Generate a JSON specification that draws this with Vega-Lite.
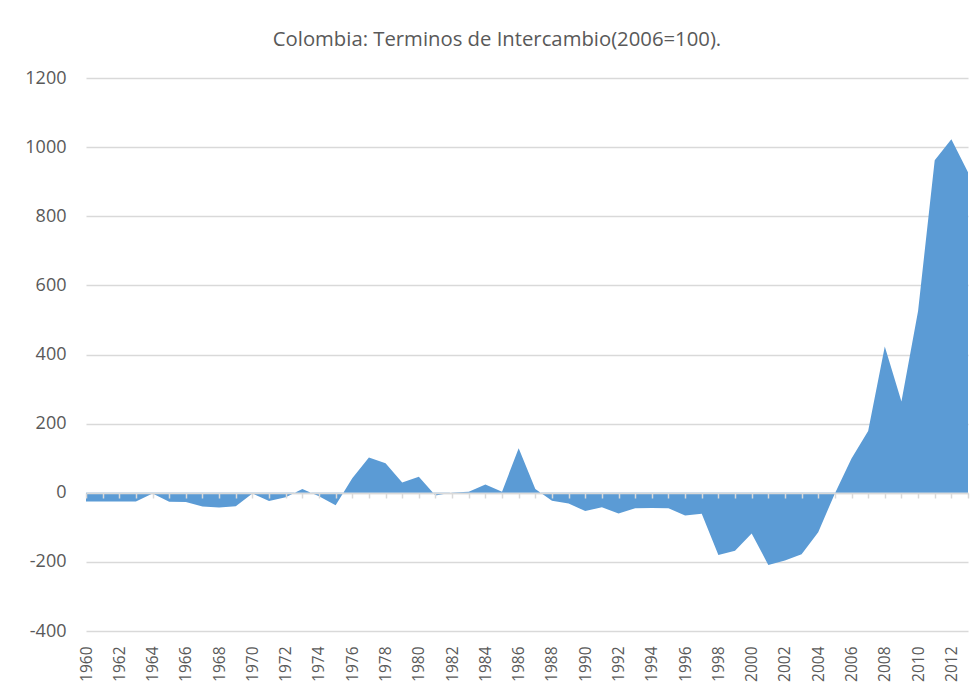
{
  "$schema": "https://vega.github.io/schema/vega-lite/v6.json",
  "autosize": "none",
  "padding": {"left": 86, "top": 78, "right": 12, "bottom": 58},
  "width": 882,
  "height": 553,
  "background": "white",
  "config": {"view": {"stroke": null}, "font": "Open Sans"},
  "title": {
    "text": "Colombia: Terminos de Intercambio(2006=100).",
    "anchor": "middle",
    "frame": "group",
    "dx": -30,
    "offset": 9,
    "baseline": "middle",
    "fontSize": 20.3,
    "fontWeight": "normal",
    "font": "Open Sans",
    "color": "#595959"
  },
  "data": {
    "values": [
      {"year": 1960, "value": -25}, {"year": 1961, "value": -25}, {"year": 1962, "value": -25},
      {"year": 1963, "value": -25}, {"year": 1964, "value": -2}, {"year": 1965, "value": -26},
      {"year": 1966, "value": -27}, {"year": 1967, "value": -40}, {"year": 1968, "value": -43},
      {"year": 1969, "value": -39}, {"year": 1970, "value": -2}, {"year": 1971, "value": -24},
      {"year": 1972, "value": -13}, {"year": 1973, "value": 11}, {"year": 1974, "value": -10},
      {"year": 1975, "value": -36}, {"year": 1976, "value": 42}, {"year": 1977, "value": 102},
      {"year": 1978, "value": 85}, {"year": 1979, "value": 30}, {"year": 1980, "value": 46},
      {"year": 1981, "value": -8}, {"year": 1982, "value": 1}, {"year": 1983, "value": 3},
      {"year": 1984, "value": 24}, {"year": 1985, "value": 3}, {"year": 1986, "value": 129},
      {"year": 1987, "value": 11}, {"year": 1988, "value": -23}, {"year": 1989, "value": -31},
      {"year": 1990, "value": -53}, {"year": 1991, "value": -42}, {"year": 1992, "value": -60},
      {"year": 1993, "value": -45}, {"year": 1994, "value": -44}, {"year": 1995, "value": -45},
      {"year": 1996, "value": -66}, {"year": 1997, "value": -61}, {"year": 1998, "value": -180},
      {"year": 1999, "value": -168}, {"year": 2000, "value": -118}, {"year": 2001, "value": -209},
      {"year": 2002, "value": -196}, {"year": 2003, "value": -178}, {"year": 2004, "value": -114},
      {"year": 2005, "value": -2}, {"year": 2006, "value": 99}, {"year": 2007, "value": 179},
      {"year": 2008, "value": 423}, {"year": 2009, "value": 264}, {"year": 2010, "value": 526},
      {"year": 2011, "value": 962}, {"year": 2012, "value": 1023}, {"year": 2013, "value": 927}
    ]
  },
  "layer": [
    {
      "mark": {"type": "area", "color": "#5B9BD5", "opacity": 1},
      "encoding": {
        "x": {
          "field": "year", "type": "quantitative",
          "scale": {"domain": [1960, 2013], "nice": false, "zero": false},
          "axis": {
            "orient": "bottom",
            "title": null,
            "values": [1960,1962,1964,1966,1968,1970,1972,1974,1976,1978,1980,1982,1984,1986,1988,1990,1992,1994,1996,1998,2000,2002,2004,2006,2008,2010,2012],
            "format": "d",
            "labelAngle": -90,
            "labelAlign": "right",
            "labelBaseline": "middle",
            "labelPadding": 15,
            "labelFontSize": 15.5,
            "labelColor": "#595959",
            "labelFont": "Open Sans",
            "labelOverlap": false,
            "labelFlush": false,
            "domain": false,
            "ticks": false,
            "grid": false
          }
        },
        "y": {
          "field": "value", "type": "quantitative",
          "scale": {"domain": [-400, 1200], "nice": false},
          "axis": {
            "title": null,
            "values": [-400, -200, 0, 200, 400, 600, 800, 1000, 1200],
            "labelExpr": "'' + datum.value",
            "domain": false,
            "ticks": false,
            "grid": true,
            "gridColor": "#d9d9d9",
            "gridWidth": 1.3,
            "labelPadding": 20,
            "labelFontSize": 18,
            "labelColor": "#595959",
            "labelFont": "Open Sans"
          }
        }
      }
    },
    {
      "mark": {"type": "line", "opacity": 0},
      "encoding": {
        "x": {
          "field": "year", "type": "quantitative",
          "axis": {
            "orient": "bottom",
            "offset": -138,
            "title": null,
            "labels": false,
            "grid": false,
            "domain": true,
            "domainColor": "#d9d9d9",
            "domainWidth": 1.5,
            "ticks": true,
            "tickColor": "#d9d9d9",
            "tickWidth": 1.5,
            "tickSize": 5,
            "values": [1960,1961,1962,1963,1964,1965,1966,1967,1968,1969,1970,1971,1972,1973,1974,1975,1976,1977,1978,1979,1980,1981,1982,1983,1984,1985,1986,1987,1988,1989,1990,1991,1992,1993,1994,1995,1996,1997,1998,1999,2000,2001,2002,2003,2004,2005,2006,2007,2008,2009,2010,2011,2012,2013],
            "zindex": 1
          }
        },
        "y": {"field": "value", "type": "quantitative"}
      }
    }
  ],
  "resolve": {"axis": {"x": "independent"}}
}
